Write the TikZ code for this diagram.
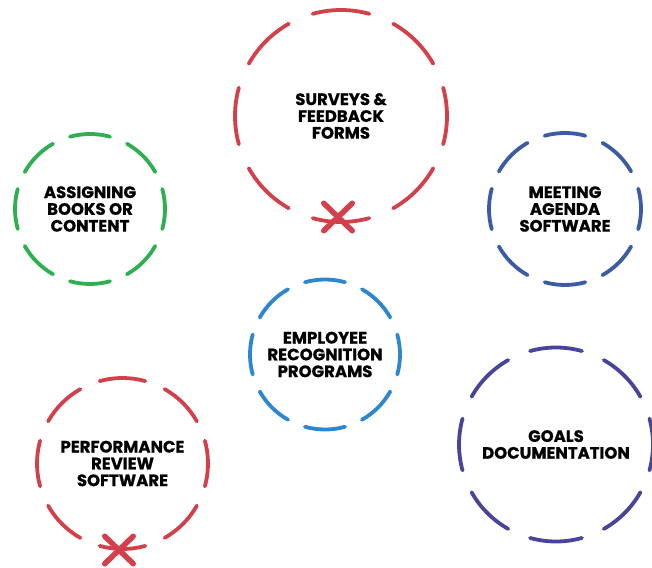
\documentclass[tikz,border=0pt]{standalone}
\usepackage{fontspec}
\setmainfont{Poppins}[BoldFeatures={FakeBold=0.8}]
\usetikzlibrary{shapes.misc}

\definecolor{ringred}{HTML}{D2404B}
\definecolor{ringgreen}{HTML}{2EAF52}
\definecolor{ringnavy}{HTML}{3B5CA5}
\definecolor{ringblue}{HTML}{2C86D2}
\definecolor{ringpurple}{HTML}{48449A}

\tikzset{
  topic/.style={circle, minimum size=#1, inner sep=0pt, align=center,
    font=\bfseries\fontsize{16.5}{16.8}\selectfont},
  ring/.style={line width=3.8pt, line cap=round},
  xmark/.style={cross out, draw=ringred, line width=5.5pt, line cap=round,
    minimum width=23pt, minimum height=22pt, inner sep=0pt}
}

% eight dashes round a topic node
\newcommand{\dashring}[3]{%
  \foreach \a [evaluate=\a as \s using \a-15.5] in {0,45,...,315}
    \draw[ring, #3] (#1.center) ++(\s:#2) arc[start angle=\s, delta angle=31, radius=#2];
}

\begin{document}
\begin{tikzpicture}[x=1pt, y=1pt]
  \useasboundingbox (0,0) rectangle (652,567);

  % Nodes
  \node [topic=212pt] (surveys)     at (341,451)   {SURVEYS \&\\FEEDBACK\\FORMS};
  \node [topic=150pt] (books)       at (90,358)    {ASSIGNING\\BOOKS OR\\CONTENT};
  \node [topic=152pt] (agenda)      at (565,358)   {MEETING\\AGENDA\\SOFTWARE};
  \node [topic=150pt] (recognition) at (325,212.5) {EMPLOYEE\\RECOGNITION\\PROGRAMS};
  \node [topic=171pt] (review)      at (122.5,103.5) {PERFORMANCE\\REVIEW\\SOFTWARE};
  \node [topic=194pt] (goals)       at (556,122.5) {GOALS\\DOCUMENTATION};

  % Circles
  \dashring{surveys}{106}{ringred}
  \dashring{books}{75}{ringgreen}
  \dashring{agenda}{76}{ringnavy}
  \dashring{recognition}{75}{ringblue}
  \dashring{review}{85.5}{ringred}
  \dashring{goals}{97}{ringpurple}

  % Marks
  \node [xmark] (surveysmark) at (338,350) {};
  \node [xmark] (reviewmark)  at (119,17)  {};
\end{tikzpicture}
\end{document}
